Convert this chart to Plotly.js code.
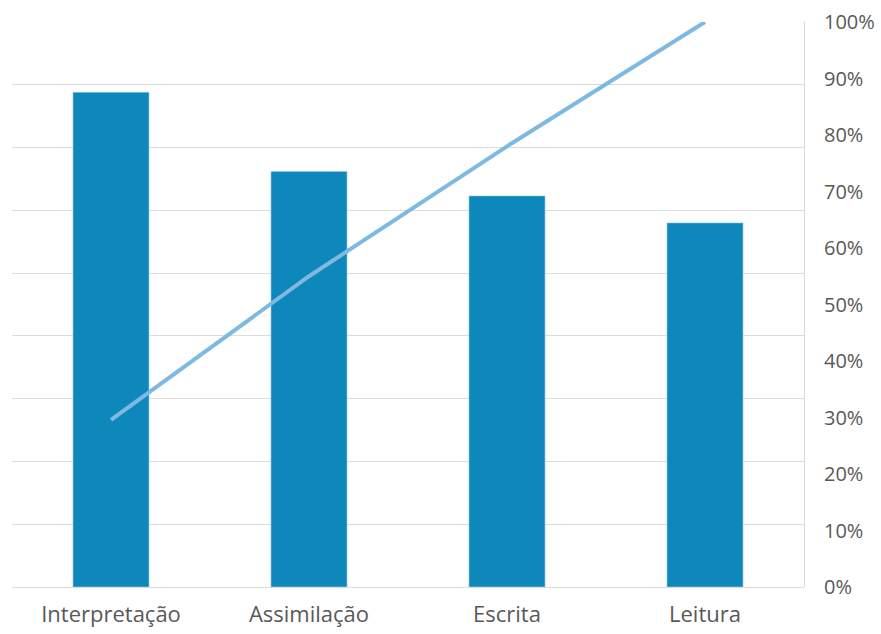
<!DOCTYPE html>
<html>
<head>
<meta charset="utf-8">
<script src="https://cdn.plot.ly/plotly-3.0.1.min.js"></script>
<style>html,body{margin:0;padding:0;background:#fff;}#chart{width:881px;height:634px;}</style>
</head>
<body>
<div id="chart"></div>
<script>
const categories = ["Interpretação", "Assimilação", "Escrita", "Leitura"];
const barValues = [7.88, 6.62, 6.23, 5.80];
const cumulativePct = [0.296, 0.550, 0.780, 1.00];
const rightTicks = [0, 0.1, 0.2, 0.3, 0.4, 0.5, 0.6, 0.7, 0.8, 0.9, 1.0];
const rightTickLabels = ["0%", "10%", "20%", "30%", "40%", "50%", "60%", "70%", "80%", "90%", "100%"];

const traces = [
  {
    type: "bar",
    x: categories,
    y: barValues,
    marker: {color: "#0E87BB", line: {color: "#9fd0ea", width: 0.6}},
    yaxis: "y",
    hoverinfo: "x+y"
  },
  {
    type: "scatter",
    mode: "lines",
    x: categories,
    y: cumulativePct,
    line: {color: "#7DB9E1", width: 4},
    yaxis: "y2"
  }
];

const layout = {
  width: 881,
  height: 634,
  margin: {l: 12, r: 77, t: 22, b: 47},
  paper_bgcolor: "#fff",
  plot_bgcolor: "#fff",
  showlegend: false,
  bargap: 0.616,
  font: {family: "Open Sans, sans-serif", size: 22, color: "#595959"},
  xaxis: {
    showgrid: false,
    showline: false,
    zeroline: false,
    ticks: "",
    tickfont: {size: 22, color: "#595959"},
    ticklabelstandoff: 12
  },
  yaxis: {
    range: [0, 9],
    dtick: 1,
    showticklabels: false,
    showgrid: true,
    gridcolor: "#dcdcdc",
    gridwidth: 1,
    zeroline: true,
    zerolinecolor: "#dcdcdc",
    zerolinewidth: 1,
    showline: false,
    fixedrange: true
  },
  yaxis2: {
    overlaying: "y",
    side: "right",
    range: [0, 1],
    tickvals: rightTicks,
    ticktext: rightTickLabels,
    showgrid: false,
    zeroline: false,
    showline: true,
    linecolor: "#d9d9d9",
    linewidth: 1,
    ticks: "",
    tickfont: {size: 20, color: "#595959"},
    ticklabelstandoff: 15
  }
};

Plotly.newPlot("chart", traces, layout, {displayModeBar: false, staticPlot: true});
</script>
</body>
</html>
